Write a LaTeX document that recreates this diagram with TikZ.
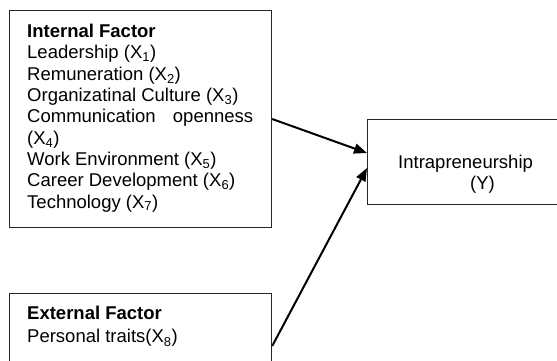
\documentclass[tikz,border=0pt]{standalone}
\usepackage{fontspec}
\setmainfont{Liberation Sans}
\usetikzlibrary{arrows.meta}
\tikzset{
  box/.style={draw=black!85, line width=1.2pt, rectangle, inner sep=0pt, anchor=north west},
  lbl/.style={inner sep=0pt, anchor=north west, align=left, font=\fontsize{18.5}{21.3}\selectfont},
  arr/.style={draw=black, line width=2pt, -{Triangle[length=13pt,width=10pt]}}
}
\begin{document}
\begin{tikzpicture}[x=1pt,y=-1pt]
\useasboundingbox (0,0) rectangle (557,360);
\clip (0,0) rectangle (557,360);
\node[box, minimum width=262pt, minimum height=217pt] (int) at (9,10) {};
\node[box, minimum width=262pt, minimum height=100pt] (ext) at (9,293) {};
\node[box, minimum width=220pt, minimum height=85pt] (y) at (367,119) {};
\node[lbl] (inttext) at (27,24) {\textbf{Internal Factor}\\
Leadership (X\textsubscript{1})\\
Remuneration (X\textsubscript{2})\\
Organizatinal Culture (X\textsubscript{3})\\
\makebox[226pt][l]{Communication\hfill openness}\\
(X\textsubscript{4})\\
Work Environment (X\textsubscript{5})\\
Career Development (X\textsubscript{6})\\
Technology (X\textsubscript{7})};
\node[lbl] (exttext) at (27,306) {\textbf{External Factor}\\[2pt]
Personal traits(X\textsubscript{8})};
\node[lbl] (ytext) at (398,155) {Intrapreneurship\\
\hspace*{72pt}(Y)};
\draw[arr] ([yshift=-109pt]int.north east) -- ([yshift=-34pt]y.north west);
\draw[arr] ([yshift=-53pt]ext.north east) -- ([yshift=-49pt]y.north west);
\end{tikzpicture}
\end{document}
